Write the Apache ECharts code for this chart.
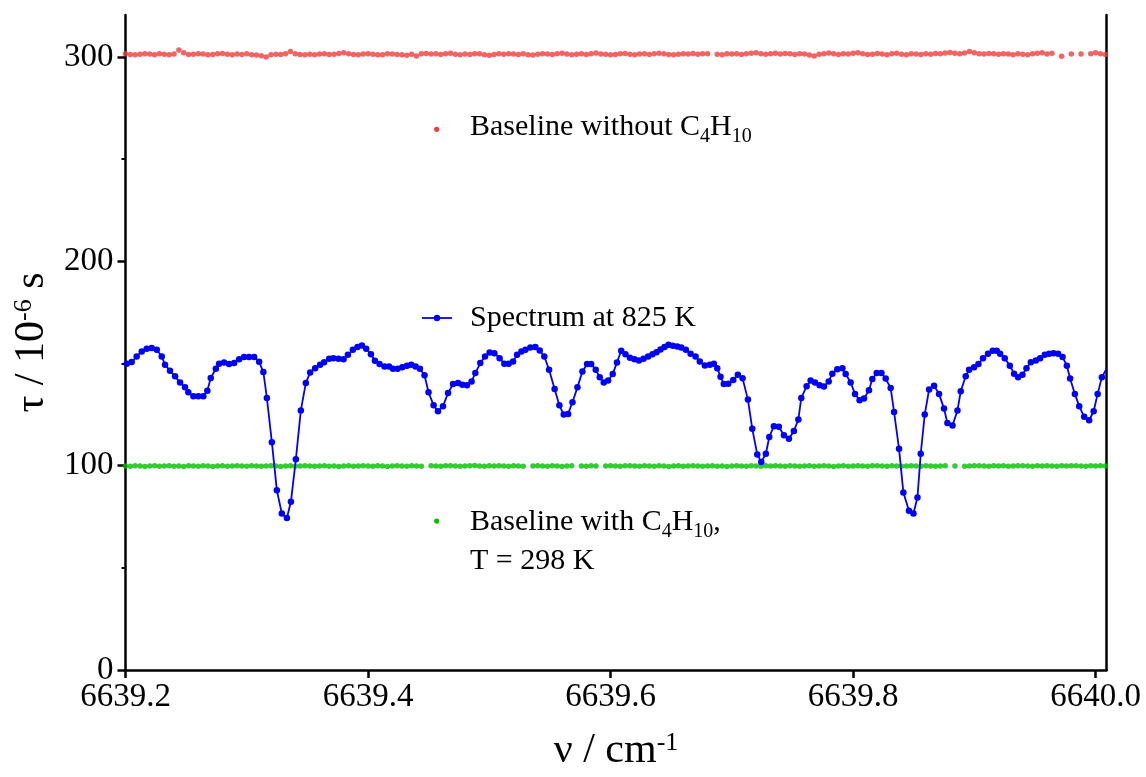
<!DOCTYPE html>
<html>
<head>
<meta charset="utf-8">
<script src="https://cdn.jsdelivr.net/npm/echarts@6/dist/echarts.min.js"></script>
<style>
  html, body { margin: 0; padding: 0; background: #fff; }
  #chart { width: 1146px; height: 777px; }
</style>
</head>
<body>
<div id="chart"></div>
<script>
// Wavenumber grid shared by the two baselines (cm^-1)
const baselineNu = [
  6639.200, 6639.204, 6639.208, 6639.212, 6639.216, 6639.220, 6639.224, 6639.228, 6639.232, 6639.236,
  6639.240, 6639.244, 6639.248, 6639.252, 6639.256, 6639.260, 6639.264, 6639.268, 6639.272, 6639.276,
  6639.280, 6639.284, 6639.288, 6639.292, 6639.296, 6639.300, 6639.304, 6639.308, 6639.312, 6639.316,
  6639.320, 6639.324, 6639.328, 6639.332, 6639.336, 6639.340, 6639.344, 6639.348, 6639.352, 6639.356,
  6639.360, 6639.364, 6639.368, 6639.372, 6639.376, 6639.380, 6639.384, 6639.388, 6639.392, 6639.396,
  6639.400, 6639.404, 6639.408, 6639.412, 6639.416, 6639.420, 6639.424, 6639.428, 6639.432, 6639.436,
  6639.440, 6639.444, 6639.448, 6639.452, 6639.456, 6639.460, 6639.464, 6639.468, 6639.472, 6639.476,
  6639.480, 6639.484, 6639.488, 6639.492, 6639.496, 6639.500, 6639.504, 6639.508, 6639.512, 6639.516,
  6639.520, 6639.524, 6639.528, 6639.532, 6639.536, 6639.540, 6639.544, 6639.548, 6639.552, 6639.556,
  6639.560, 6639.564, 6639.568, 6639.572, 6639.576, 6639.580, 6639.584, 6639.588, 6639.592, 6639.596,
  6639.600, 6639.604, 6639.608, 6639.612, 6639.616, 6639.620, 6639.624, 6639.628, 6639.632, 6639.636,
  6639.640, 6639.644, 6639.648, 6639.652, 6639.656, 6639.660, 6639.664, 6639.668, 6639.672, 6639.676,
  6639.680, 6639.684, 6639.688, 6639.692, 6639.696, 6639.700, 6639.704, 6639.708, 6639.712, 6639.716,
  6639.720, 6639.724, 6639.728, 6639.732, 6639.736, 6639.740, 6639.744, 6639.748, 6639.752, 6639.756,
  6639.760, 6639.764, 6639.768, 6639.772, 6639.776, 6639.780, 6639.784, 6639.788, 6639.792, 6639.796,
  6639.800, 6639.804, 6639.808, 6639.812, 6639.816, 6639.820, 6639.824, 6639.828, 6639.832, 6639.836,
  6639.840, 6639.844, 6639.848, 6639.852, 6639.856, 6639.860, 6639.864, 6639.868, 6639.872, 6639.876,
  6639.880, 6639.884, 6639.888, 6639.892, 6639.896, 6639.900, 6639.904, 6639.908, 6639.912, 6639.916,
  6639.920, 6639.924, 6639.928, 6639.932, 6639.936, 6639.940, 6639.944, 6639.948, 6639.952, 6639.956,
  6639.960, 6639.964, 6639.968, 6639.972, 6639.976, 6639.980, 6639.984, 6639.988, 6639.992, 6639.996,
  6640.000, 6640.004, 6640.008
];

// Ring-down time of the empty cell (10^-6 s); null = point not recorded
const tauNoC4H10 = [
  301.5, 301.2, 301.0, 301.3, 301.6, 301.4, 301.1, 301.5, 301.3, 301.0,
  301.4, 303.4, 302.0, 301.2, 301.3, 301.6, 301.4, 301.0, 301.2, 301.5,
  301.7, 301.3, 301.0, 301.4, 301.2, 301.5, 301.1, 300.9, 300.6, 300.0,
  301.0, 301.3, 301.2, 301.6, 302.6, 301.6, 301.2, 301.0, 301.3, 301.1,
  301.4, 301.6, 301.2, 301.3, 301.7, 302.0, 301.5, 301.2, 301.0, 301.4,
  301.6, 301.3, 301.0, 301.1, 301.5, 301.4, 301.2, 301.0, 300.8, 301.3,
  300.4, 301.5, 301.7, 301.4, 301.6, 301.2, 301.5, 301.8, 301.3, 301.0,
  301.4, 301.2, 301.6, 301.5, 301.1, 300.8, 301.2, 301.5, 301.3, 301.6,
  301.4, 301.2, 301.5, 301.0, 300.9, 301.3, 301.6, 301.4, 301.2, 301.5,
  301.8, 301.4, 301.0, 301.3, 301.5, 301.2, 301.6, 301.9, 301.4, 301.3,
  301.0, 301.2, 301.5, 301.7, 301.3, 301.1, 301.4, 301.6, 301.2, 301.5,
  301.8, 301.5, 301.2, 301.0, 301.3, 301.6, 301.4, 301.7, 301.3, 301.5,
  301.6, null,  301.3, 301.0, 301.5, 301.4, 301.6, 301.2, 301.5, 301.8,
  302.0, 301.6, 301.3, 301.5, 301.8, 301.4, 301.7, 301.5, 301.2, 301.6,
  301.4, 300.9, 300.4, 301.3, 301.6, 301.9, 301.5, 301.2, 301.6, 301.4,
  301.8, 302.0, 301.5, 301.2, 301.3, 301.7, 301.4, 301.1, 301.5, 301.8,
  301.3, 301.0, 301.6, 301.4, 301.2, 301.5, 301.3, 301.7, 301.5, 301.9,
  302.2, 301.8, 301.5, 301.9, 302.7, 302.0, 301.6, 301.4, 301.7, 301.5,
  301.3, 301.6, 301.4, 301.1, 301.5, 301.3, 301.0, 301.5, 301.8, 302.0,
  301.4, 301.8, null,  300.3, null,  301.4, null,  301.4, null,  301.6,
  302.0, 301.6, 301.2
];

// Ring-down time with C4H10 at room temperature (10^-6 s)
const tauWithC4H10 = [
  99.8, 99.7, 99.9, 99.8, 99.6, 99.8, 99.9, 99.7, 99.8, 99.9,
  99.7, 99.8, 99.6, 99.9, 99.8, 99.7, 99.9, 99.8, 99.6, 99.8,
  99.9, 99.7, 99.8, 100.0, 99.8, 99.7, 99.9, 99.8, 99.7, 99.8,
  99.9, 99.8, 99.6, 99.8, 99.9, 99.7, 99.8, 100.0, 99.8, 99.7,
  99.8, 99.9, 99.7, 99.8, 99.6, 99.8, 99.9, 99.7, 99.8, 99.9,
  99.8, 99.7, 99.9, 99.8, 99.6, 99.8, 100.0, 99.8, 99.7, 99.9,
  99.8, 99.7, null, 99.9, 99.8, 99.7, 99.9, 100.0, 99.8, 99.7,
  99.8, 99.9, 100.1, 99.8, 99.7, 99.9, 99.8, 100.0, 99.8, 99.7,
  99.9, 99.8, 99.7, null, 99.8, 99.9, 99.8, 99.7, 99.9, 99.8,
  99.6, 99.8, 99.9, null, 99.8, 99.7, 99.9, 99.8, null, 99.8,
  99.9, 99.8, 99.7, 99.9, 100.0, 99.8, 99.7, 99.9, 99.8, 99.7,
  99.9, 99.8, 99.6, 99.8, 99.9, 99.7, 99.8, 99.9, 99.8, 99.7,
  99.8, 99.9, 99.7, 99.8, 99.6, 99.8, 99.9, 99.8, 99.7, 99.9,
  99.8, 99.7, 99.9, 99.8, 100.0, 99.8, 99.7, 99.9, 99.8, 99.7,
  99.8, 99.9, 99.7, 99.8, 99.9, 99.8, 99.6, 99.8, 99.9, 99.7,
  99.8, 99.9, 99.8, 99.7, 99.9, 100.0, 99.8, 99.7, 99.9, 99.8,
  99.7, 99.8, 99.9, 99.8, 99.7, 99.9, 99.8, 99.7, 99.8, 99.9,
  null, 99.8, null, 99.7, 99.8, 99.9, 99.9, 99.8, 99.7, 99.9,
  99.8, 99.9, 99.7, 99.8, 99.9, 100.0, 99.8, 99.7, 99.9, 99.8,
  99.9, 99.8, 99.7, 99.9, 99.8, 100.0, 99.9, 99.8, 99.7, 99.9,
  99.8, 99.9, 99.8
];

// Spectrum at 825 K: wavenumber (cm^-1) and ring-down time (10^-6 s)
const spectrumNu = [
  6639.2010, 6639.2051, 6639.2092, 6639.2134, 6639.2175, 6639.2216, 6639.2258, 6639.2299, 6639.2326, 6639.2367,
  6639.2409, 6639.2450, 6639.2491, 6639.2518, 6639.2560, 6639.2601, 6639.2642, 6639.2675, 6639.2703, 6639.2745,
  6639.2772, 6639.2813, 6639.2854, 6639.2896, 6639.2937, 6639.2978, 6639.3019, 6639.3061, 6639.3102, 6639.3137,
  6639.3166, 6639.3207, 6639.3248, 6639.3289, 6639.3331, 6639.3364, 6639.3405, 6639.3446, 6639.3487, 6639.3523,
  6639.3564, 6639.3605, 6639.3638, 6639.3680, 6639.3715, 6639.3757, 6639.3798, 6639.3834, 6639.3875, 6639.3913,
  6639.3950, 6639.3985, 6639.4024, 6639.4057, 6639.4095, 6639.4136, 6639.4173, 6639.4206, 6639.4244, 6639.4282,
  6639.4321, 6639.4357, 6639.4392, 6639.4428, 6639.4466, 6639.4499, 6639.4541, 6639.4577, 6639.4618, 6639.4660,
  6639.4701, 6639.4742, 6639.4778, 6639.4816, 6639.4854, 6639.4885, 6639.4926, 6639.4965, 6639.5003, 6639.5042,
  6639.5085, 6639.5124, 6639.5160, 6639.5196, 6639.5229, 6639.5265, 6639.5298, 6639.5339, 6639.5380, 6639.5416,
  6639.5454, 6639.5493, 6639.5539, 6639.5578, 6639.5614, 6639.5650, 6639.5686, 6639.5727, 6639.5768, 6639.5807,
  6639.5840, 6639.5878, 6639.5911, 6639.5944, 6639.5980, 6639.6018, 6639.6053, 6639.6088, 6639.6123, 6639.6160,
  6639.6197, 6639.6234, 6639.6272, 6639.6310, 6639.6346, 6639.6379, 6639.6412, 6639.6445, 6639.6478, 6639.6513,
  6639.6550, 6639.6583, 6639.6621, 6639.6660, 6639.6701, 6639.6736, 6639.6778, 6639.6819, 6639.6852, 6639.6880,
  6639.6907, 6639.6934, 6639.6971, 6639.7012, 6639.7050, 6639.7089, 6639.7133, 6639.7169, 6639.7210, 6639.7243,
  6639.7281, 6639.7309, 6639.7347, 6639.7388, 6639.7430, 6639.7471, 6639.7512, 6639.7549, 6639.7573, 6639.7617,
  6639.7650, 6639.7686, 6639.7724, 6639.7760, 6639.7799, 6639.7829, 6639.7870, 6639.7912, 6639.7939, 6639.7980,
  6639.8016, 6639.8054, 6639.8090, 6639.8131, 6639.8159, 6639.8195, 6639.8234, 6639.8269, 6639.8310, 6639.8338,
  6639.8379, 6639.8415, 6639.8461, 6639.8498, 6639.8531, 6639.8558, 6639.8591, 6639.8627, 6639.8668, 6639.8709,
  6639.8750, 6639.8778, 6639.8820, 6639.8861, 6639.8888, 6639.8929, 6639.8957, 6639.8998, 6639.9034, 6639.9072,
  6639.9113, 6639.9152, 6639.9185, 6639.9213, 6639.9251, 6639.9293, 6639.9328, 6639.9361, 6639.9397, 6639.9430,
  6639.9466, 6639.9507, 6639.9543, 6639.9581, 6639.9617, 6639.9653, 6639.9691, 6639.9728, 6639.9763, 6639.9790,
  6639.9829, 6639.9865, 6639.9906, 6639.9947, 6639.9984, 6640.0017, 6640.0052, 6640.0091
];
const spectrumTau = [
  149.9, 150.7, 153.4, 155.8, 157.2, 157.5, 156.7, 153.4, 149.4, 146.4,
  143.7, 140.7, 138.3, 135.9, 133.9, 133.9, 133.9, 136.7, 142.9, 147.4,
  149.9, 150.5, 149.7, 150.2, 152.1, 153.1, 153.1, 153.1, 150.8, 145.8,
  133.1, 111.5, 88.0, 76.6, 74.4, 82.3, 103.1, 127.0, 140.4, 145.6,
  147.7, 149.4, 150.6, 152.3, 152.6, 152.3, 152.1, 154.2, 156.7, 158.0,
  158.8, 157.2, 154.5, 151.3, 149.7, 148.5, 148.5, 147.4, 147.4, 148.2,
  148.9, 149.4, 148.5, 147.4, 144.2, 135.9, 129.5, 126.6, 129.1, 135.5,
  139.9, 140.4, 139.6, 139.3, 141.2, 145.3, 150.2, 153.4, 155.4, 155.0,
  152.6, 149.9, 149.9, 151.0, 154.2, 155.8, 156.7, 157.8, 158.0, 156.3,
  153.4, 146.9, 137.5, 129.5, 125.0, 125.3, 131.0, 138.3, 146.1, 149.7,
  149.7, 146.9, 143.2, 140.7, 141.7, 144.8, 150.5, 156.2, 154.5, 152.8,
  152.0, 151.5, 152.3, 153.4, 154.5, 155.5, 156.8, 158.0, 159.1, 158.6,
  158.3, 157.8, 156.7, 154.7, 153.4, 151.0, 149.0, 149.4, 149.9, 147.7,
  143.5, 139.9, 140.1, 141.9, 144.5, 142.7, 132.3, 118.0, 105.5, 101.8,
  105.8, 114.0, 119.3, 119.0, 114.9, 113.1, 116.9, 122.6, 133.1, 138.8,
  141.6, 140.7, 139.3, 138.7, 141.2, 145.0, 147.2, 147.7, 144.8, 140.7,
  135.1, 132.0, 132.8, 136.9, 142.4, 145.3, 145.3, 142.6, 138.0, 126.3,
  108.3, 86.8, 77.9, 76.6, 84.4, 105.8, 125.0, 137.2, 139.1, 135.1,
  127.9, 120.9, 119.6, 127.0, 136.4, 143.7, 146.9, 148.2, 149.7, 152.6,
  154.7, 156.2, 156.2, 154.7, 152.6, 148.9, 145.0, 143.2, 144.5, 147.7,
  150.6, 151.5, 152.6, 154.2, 154.7, 155.0, 154.7, 153.1, 148.9, 142.6,
  135.1, 129.1, 123.9, 122.2, 126.6, 135.1, 143.3, 147.4
];

// Axis ticks
const nuTicks = [6639.2, 6639.4, 6639.6, 6639.8, 6640.0];
const tauTicks = [0, 100, 200, 300];
const tauMinorTicks = [50, 150, 250];

const FONT = '"Liberation Serif", "Times New Roman", serif';
const RED = '#f43c3c';
const GREEN = '#00c000';
const BLUE = '#0000ff';
const TAU_MAX = 320.5;

function pairs(xs, ys) {
  const out = [];
  for (let i = 0; i < xs.length; i++) {
    if (ys[i] !== null && ys[i] !== undefined) out.push([xs[i], ys[i]]);
  }
  return out;
}

const chart = echarts.init(document.getElementById('chart'), null, { renderer: 'canvas' });

const axisNameRich = {
  main: { fontFamily: FONT, fontSize: 42, lineHeight: 42, verticalAlign: 'top', color: '#000' },
  sup:  { fontFamily: FONT, fontSize: 26, lineHeight: 26, verticalAlign: 'top', color: '#000' }
};
const noteRich = {
  main: { fontFamily: FONT, fontSize: 30, lineHeight: 30, verticalAlign: 'top', fill: '#000' },
  sub:  { fontFamily: FONT, fontSize: 20, lineHeight: 20, padding: [15, 0, 0, 0], verticalAlign: 'top', fill: '#000' }
};

const option = {
  animation: false,
  backgroundColor: '#fff',
  grid: { left: 125.5, right: 39.5, top: 15, bottom: 104 },
  xAxis: {
    type: 'value',
    min: 6639.2,
    max: 6640.009,
    interval: 0.2,
    name: '{main|\u03bd / cm}{sup|-1}',
    nameLocation: 'middle',
    nameGap: 60,
    nameTextStyle: { rich: axisNameRich },
    axisLine: { show: true, onZero: false, lineStyle: { color: '#000', width: 2.5 } },
    axisTick: { show: true, length: 8, customValues: nuTicks, lineStyle: { color: '#000', width: 2.5 } },
    axisLabel: {
      customValues: nuTicks,
      margin: 11,
      fontFamily: FONT, fontSize: 33, color: '#000',
      formatter: v => v.toFixed(1)
    },
    splitLine: { show: false }
  },
  yAxis: [
    {
      type: 'value',
      position: 'left',
      min: 0,
      max: TAU_MAX,
      interval: 100,
      name: '{main|\u03c4 / 10}{sup|-6}{main| s}',
      nameLocation: 'middle',
      nameGap: 68,
      nameRotate: 90,
      nameTextStyle: { rich: axisNameRich },
      axisLine: { show: true, onZero: false, lineStyle: { color: '#000', width: 2.5 } },
      axisTick: { show: true, length: 8, customValues: tauTicks, lineStyle: { color: '#000', width: 2.5 } },
      axisLabel: {
        customValues: tauTicks,
        margin: 12,
        fontFamily: FONT, fontSize: 33, color: '#000'
      },
      splitLine: { show: false }
    },
    {
      // minor ticks on the left axis
      type: 'value',
      position: 'left',
      min: 0,
      max: TAU_MAX,
      interval: 50,
      axisLine: { show: false },
      axisTick: { show: true, length: 4, customValues: tauMinorTicks, lineStyle: { color: '#000', width: 2 } },
      axisLabel: { show: false },
      splitLine: { show: false }
    },
    {
      // right frame line
      type: 'value',
      position: 'right',
      min: 0,
      max: TAU_MAX,
      axisLine: { show: true, lineStyle: { color: '#000', width: 2.5 } },
      axisTick: { show: false },
      axisLabel: { show: false },
      splitLine: { show: false }
    }
  ],
  series: [
    {
      name: 'Baseline without C4H10',
      type: 'scatter',
      yAxisIndex: 0,
      symbol: 'circle',
      symbolSize: 5.5,
      itemStyle: { color: RED },
      data: pairs(baselineNu, tauNoC4H10),
      z: 3
    },
    {
      name: 'Baseline with C4H10, T = 298 K',
      type: 'scatter',
      yAxisIndex: 0,
      symbol: 'circle',
      symbolSize: 5.5,
      itemStyle: { color: GREEN },
      data: pairs(baselineNu, tauWithC4H10),
      z: 3
    },
    {
      name: 'Spectrum at 825 K',
      type: 'line',
      yAxisIndex: 0,
      symbol: 'circle',
      symbolSize: 6.5,
      showSymbol: true,
      showAllSymbol: true,
      lineStyle: { color: BLUE, width: 1.8 },
      itemStyle: { color: BLUE },
      data: pairs(spectrumNu, spectrumTau),
      z: 4
    }
  ],
  graphic: [
    // key: empty-cell baseline
    { type: 'circle', shape: { cx: 436.7, cy: 129.3, r: 2.6 }, style: { fill: RED }, silent: true },
    {
      type: 'text', x: 470, y: 112, silent: true,
      style: {
        text: '{main|Baseline without C}{sub|4}{main|H}{sub|10}',
        rich: noteRich, verticalAlign: 'top', align: 'left'
      }
    },
    // key: spectrum
    { type: 'line', shape: { x1: 422, y1: 318, x2: 452, y2: 318 }, style: { stroke: BLUE, lineWidth: 1.8 }, silent: true },
    { type: 'circle', shape: { cx: 437, cy: 318, r: 3.2 }, style: { fill: BLUE }, silent: true },
    {
      type: 'text', x: 470, y: 318, silent: true,
      style: {
        text: 'Spectrum at 825 K',
        font: '30px ' + FONT, fill: '#000', verticalAlign: 'middle', align: 'left'
      }
    },
    // key: baseline with butane
    { type: 'circle', shape: { cx: 436.7, cy: 521, r: 2.6 }, style: { fill: GREEN }, silent: true },
    {
      type: 'text', x: 470, y: 506.7, silent: true,
      style: {
        text: '{main|Baseline with C}{sub|4}{main|H}{sub|10}{main|,}',
        rich: noteRich, verticalAlign: 'top', align: 'left'
      }
    },
    {
      type: 'text', x: 470, y: 545.7, silent: true,
      style: {
        text: '{main|T = 298 K}',
        rich: noteRich, verticalAlign: 'top', align: 'left'
      }
    }
  ]
};

chart.setOption(option);
</script>
</body>
</html>
